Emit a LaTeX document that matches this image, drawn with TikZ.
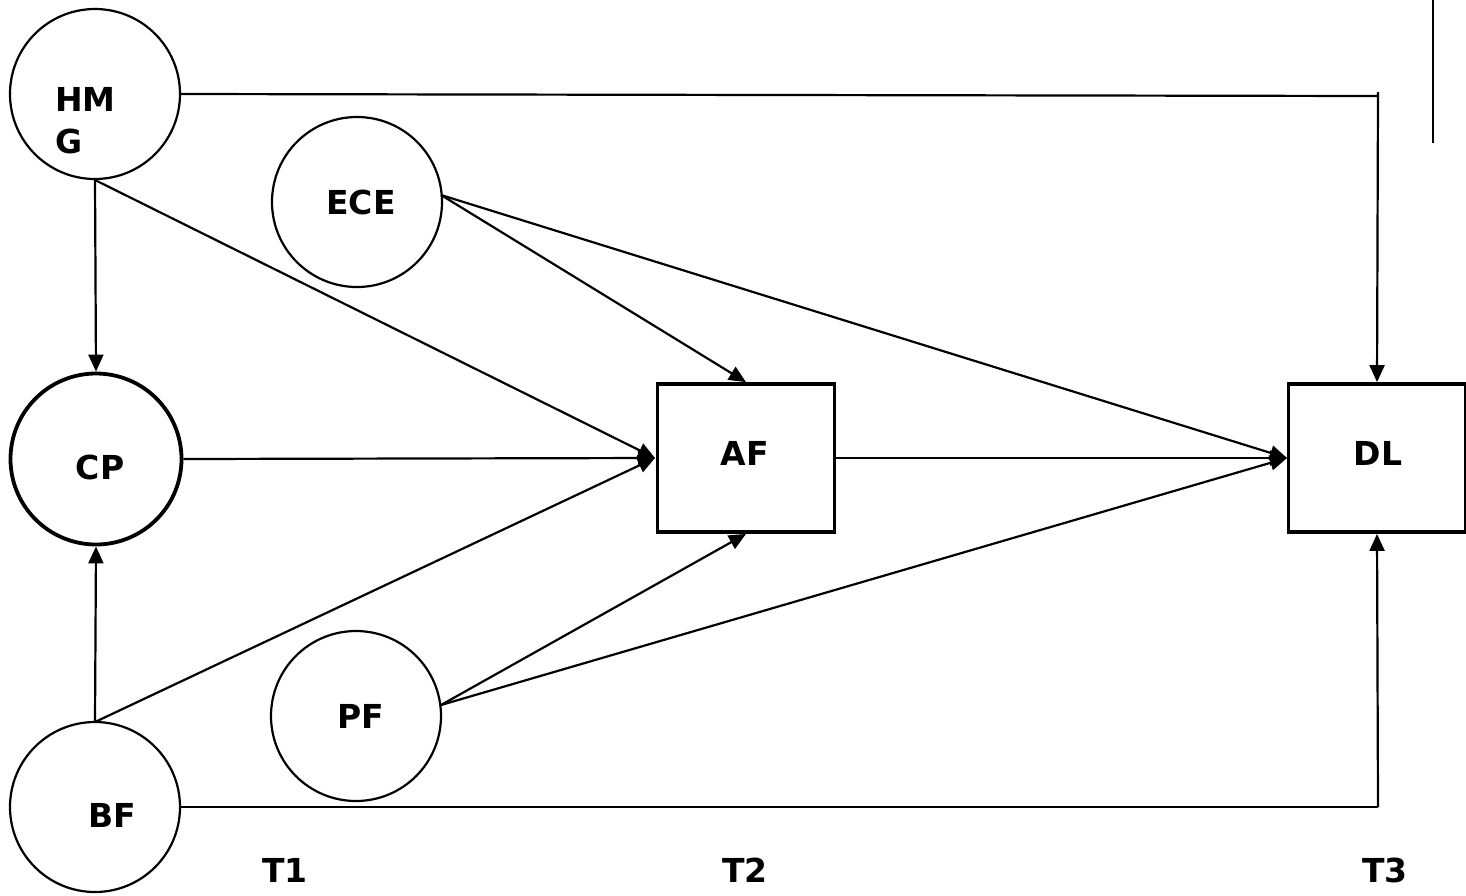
\documentclass[tikz,border=0pt]{standalone}
\usepackage{fontspec}
\setmainfont{DejaVu Sans}
\usetikzlibrary{arrows.meta}
\begin{document}
\begin{tikzpicture}[x=1pt,y=-1pt,
  every node/.style={font=\fontsize{33}{42}\selectfont\bfseries},
  var/.style={circle,draw,line width=2.2pt,minimum size=170pt,inner sep=0pt},
  thickvar/.style={var,line width=3.8pt,minimum size=171pt},
  boxnode/.style={rectangle,draw,line width=3.8pt,minimum width=177pt,minimum height=148pt,inner sep=0pt},
  lbl/.style={inner sep=0pt},
  conn/.style={line width=2.2pt,-{Triangle[length=17pt,width=15pt]}},
  plain/.style={line width=2.2pt}]
\useasboundingbox (0,0) rectangle (1466,895);
% nodes
\node[var] (hmg) at (95,94) {};
\node[lbl,align=left,anchor=north west] (hmgt) at (55,87) {HM\\G};
\node[var] (ece) at (357,202) {};
\node[lbl] (ecet) at (361,202) {ECE};
\node[thickvar] (cp) at (96,459) {};
\node[lbl] (cpt) at (100,467) {CP};
\node[var] (pf) at (356,716) {};
\node[lbl] (pft) at (361,716) {PF};
\node[var] (bf) at (95,807) {};
\node[lbl] (bft) at (112,815) {BF};
\node[boxnode] (af) at (746,458) {};
\node[lbl] (aft) at (745,453) {AF};
\node[boxnode] (dl) at (1377,458) {};
\node[lbl] (dlt) at (1378,453) {DL};
\node[lbl] (t1) at (285,870) {T1};
\node[lbl] (t2) at (745,870) {T2};
\node[lbl] (t3) at (1385,870) {T3};
% coordinates
\coordinate (hmgS) at (95,180);
\coordinate (bfN) at (95,722);
\coordinate (eceE) at (441,195);
\coordinate (pfE) at (441,705);
\coordinate (afW) at (655,458);
\coordinate (dlW) at (1287,458);
\coordinate (tr) at (1378,96);
\coordinate (trt) at (1378,92);
\coordinate (br) at (1378,807);
\coordinate (vt) at (1433,0);
\coordinate (vb) at (1433,143);
% connectors
\draw[plain] (hmg.east) -- (tr);
\draw[conn] (trt) -- (dl.north);
\draw[conn] (hmgS) -- (cp.north);
\draw[conn] (hmgS) -- (afW);
\draw[conn] (eceE) -- (af.north);
\draw[conn] (eceE) -- (dlW);
\draw[conn] (cp.east) -- (afW);
\draw[conn] (bfN) -- (cp.south);
\draw[conn] (bfN) -- (afW);
\draw[conn] (pfE) -- (af.south);
\draw[conn] (pfE) -- (dlW);
\draw[conn] (af.east) -- (dlW);
\draw[plain] (bf.east) -- (br);
\draw[conn] (br) -- (dl.south);
\draw[plain] (vt) -- (vb);
\end{tikzpicture}
\end{document}
